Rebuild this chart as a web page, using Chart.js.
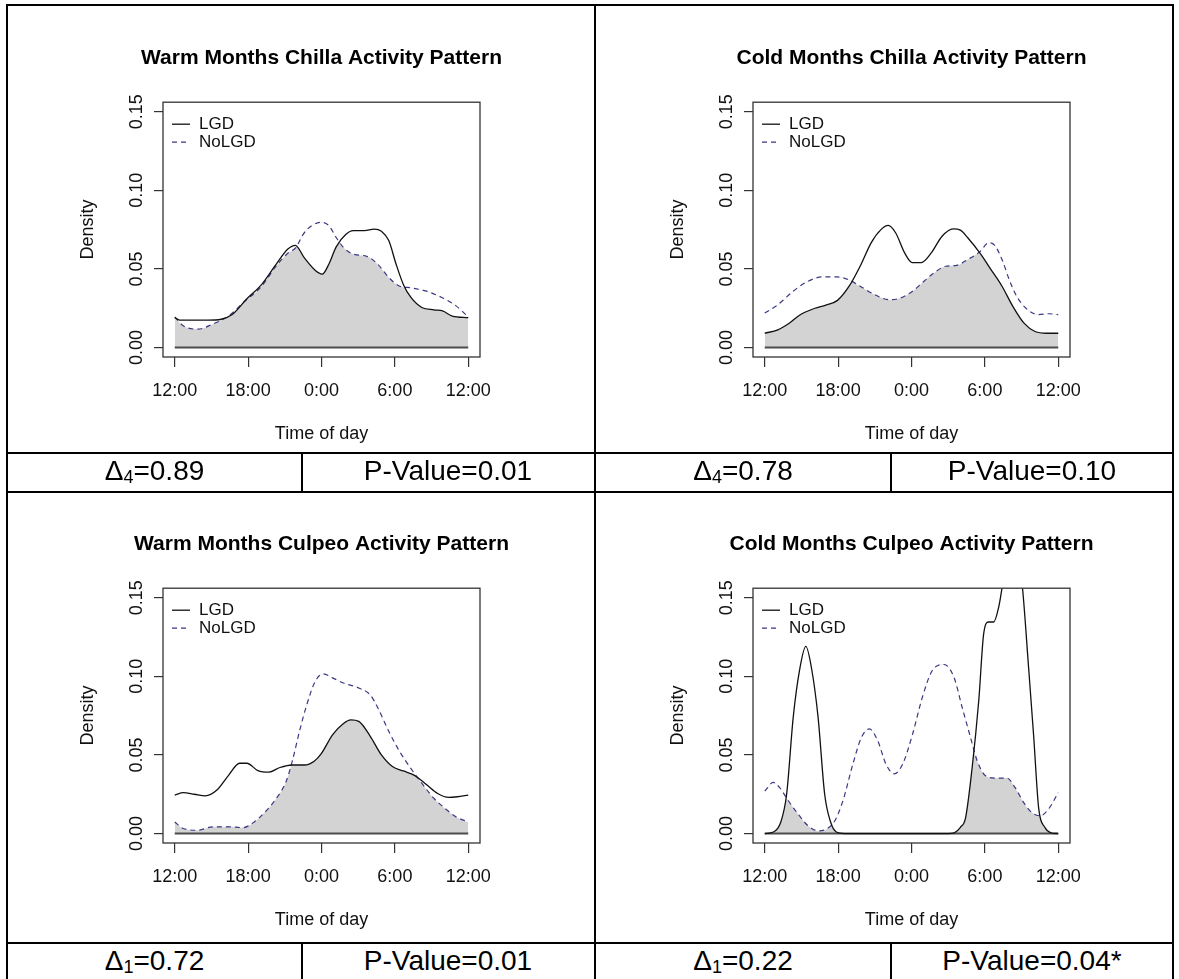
<!DOCTYPE html>
<html>
<head>
<meta charset="utf-8">
<script src="https://cdn.jsdelivr.net/npm/chart.js@4.4.1/dist/chart.umd.min.js"></script>
<style>
  body { margin: 0; background: #fff; width: 1179px; height: 979px; position: relative; overflow: hidden;
         font-family: "Liberation Sans", Arial, sans-serif; }
  canvas.panel { position: absolute; }
  .rule { position: absolute; background: #000; z-index: 2; }
  .stat { position: absolute; height: 36px; line-height: 36px; font-size: 28px; color: #000; text-align: center; white-space: nowrap; }
  .stat sub { font-size: 18px; vertical-align: -3px; }
</style>
</head>
<body>
<script>
// x axis: hours after noon, 0 = 12:00 ... 24 = next 12:00
const tickHours = [0, 6, 12, 18, 24];
const tickLabels = ['12:00', '18:00', '0:00', '6:00', '12:00'];
const densityTicks = [0, 0.05, 0.10, 0.15];

const titles = [
  'Warm Months Chilla Activity Pattern',
  'Cold Months Chilla Activity Pattern',
  'Warm Months Culpeo Activity Pattern',
  'Cold Months Culpeo Activity Pattern'
];
const deltaSub = ['4', '4', '1', '1'];
const deltaValues = ['0.89', '0.78', '0.72', '0.22'];
const pValues = ['0.01', '0.10', '0.01', '0.04*'];

// Warm months, chilla
const warmChillaLgdHours = [0, 0.4, 1.5, 2.7, 3.8, 4.7, 5.9, 7.1, 8.3, 9.25, 9.86, 10.6, 11.5, 12.06, 12.6, 13.2, 14.0, 14.6, 15.5, 16.3, 16.9, 17.5, 18.1, 18.7, 19.3, 20.2, 21.2, 21.9, 22.7, 24];
const warmChillaLgd = [0.019, 0.0175, 0.0174, 0.0174, 0.018, 0.021, 0.031, 0.040, 0.053, 0.0626, 0.065, 0.057, 0.049, 0.0467, 0.053, 0.064, 0.072, 0.0743, 0.0743, 0.0753, 0.074, 0.068, 0.053, 0.040, 0.032, 0.0255, 0.024, 0.0233, 0.020, 0.019];
const warmChillaNoHours = [0, 0.7, 1.9, 3.1, 4.4, 5.6, 7.1, 8.3, 9.25, 9.9, 10.5, 11.2, 12.0, 12.6, 13.2, 13.8, 14.6, 15.7, 16.6, 17.5, 18.4, 19.3, 20.5, 21.8, 23.0, 24];
const warmChillaNo = [0.0195, 0.0138, 0.0117, 0.0149, 0.020, 0.0286, 0.039, 0.052, 0.060, 0.0636, 0.072, 0.0775, 0.0796, 0.0775, 0.070, 0.0636, 0.0594, 0.058, 0.053, 0.0446, 0.039, 0.038, 0.036, 0.032, 0.0265, 0.0195];

// Cold months, chilla
const coldChillaLgdHours = [0, 1.07, 2.0, 2.9, 4.1, 5.0, 5.95, 6.9, 7.8, 8.7, 9.5, 10.1, 10.7, 11.45, 12.06, 12.8, 13.6, 14.5, 15.4, 16.0, 16.6, 17.6, 18.5, 19.4, 20.3, 21.2, 22.1, 23.05, 24];
const coldChillaLgd = [0.0091, 0.0113, 0.0155, 0.0209, 0.025, 0.027, 0.030, 0.039, 0.0517, 0.0666, 0.075, 0.0777, 0.073, 0.060, 0.054, 0.054, 0.060, 0.0708, 0.0755, 0.0747, 0.0698, 0.060, 0.0496, 0.039, 0.026, 0.0155, 0.0102, 0.0091, 0.0091];
const coldChillaNoHours = [0, 1.07, 2.3, 3.5, 4.7, 5.95, 6.9, 7.8, 9.0, 10.2, 11.1, 12.06, 13.0, 13.9, 14.8, 15.7, 16.6, 17.6, 18.3, 18.8, 19.4, 20.0, 20.6, 21.5, 22.4, 23.2, 24];
const coldChillaNo = [0.0219, 0.0272, 0.0357, 0.042, 0.0449, 0.0449, 0.043, 0.039, 0.0336, 0.0304, 0.0315, 0.0357, 0.042, 0.0479, 0.0517, 0.0523, 0.056, 0.061, 0.0666, 0.065, 0.056, 0.043, 0.0326, 0.024, 0.0209, 0.0215, 0.0209];

// Warm months, culpeo
const warmCulpeoLgdHours = [0, 0.7, 1.6, 2.5, 3.45, 4.4, 5.3, 5.9, 6.8, 7.7, 8.6, 9.6, 10.6, 11.4, 12.0, 12.9, 13.8, 14.4, 15.05, 16.0, 16.9, 17.8, 18.7, 19.6, 20.6, 21.5, 22.4, 23.1, 24];
const warmCulpeoLgd = [0.0245, 0.026, 0.025, 0.024, 0.0277, 0.037, 0.0447, 0.0447, 0.040, 0.039, 0.042, 0.0436, 0.0436, 0.046, 0.051, 0.0628, 0.070, 0.0723, 0.0713, 0.0617, 0.050, 0.0426, 0.0398, 0.037, 0.031, 0.0255, 0.023, 0.0234, 0.0245];
const warmCulpeoNoHours = [0, 0.7, 1.9, 3.1, 4.4, 5.6, 6.5, 7.4, 8.3, 9.1, 9.6, 10.2, 10.8, 11.5, 12.15, 12.9, 13.8, 15.05, 16.0, 16.6, 17.5, 18.4, 19.3, 20.2, 21.2, 22.1, 23.0, 24];
const warmCulpeoNo = [0.0074, 0.0032, 0.0021, 0.0043, 0.0043, 0.0038, 0.0074, 0.0138, 0.0223, 0.033, 0.0457, 0.065, 0.082, 0.097, 0.1015, 0.099, 0.0957, 0.0926, 0.088, 0.080, 0.065, 0.052, 0.0415, 0.032, 0.0223, 0.016, 0.0106, 0.0074];

// Cold months, culpeo
const coldCulpeoLgdHours = [0, 0.7, 1.3, 1.79, 2.33, 2.85, 3.36, 3.85, 4.36, 4.9, 5.4, 5.85, 6.5, 15.0, 15.5, 16.0, 16.42, 16.96, 17.5, 17.9, 18.3, 18.72, 19.13, 19.4, 19.8, 20.3, 20.7, 21.08, 21.57, 21.98, 22.4, 22.9, 23.4, 24];
const coldCulpeoLgd = [0, 0.001, 0.007, 0.025, 0.074, 0.104, 0.119, 0.104, 0.074, 0.025, 0.007, 0.001, 0, 0, 0.0005, 0.004, 0.010, 0.042, 0.0846, 0.127, 0.1345, 0.1345, 0.144, 0.156, 0.175, 0.185, 0.178, 0.1558, 0.106, 0.063, 0.016, 0.004, 0.0005, 0];
const coldCulpeoNoHours = [0, 0.7, 1.24, 1.92, 2.73, 3.55, 4.36, 5.04, 5.72, 6.4, 7.2, 7.9, 8.56, 9.24, 9.92, 10.59, 11.27, 12.08, 12.89, 13.7, 14.66, 15.47, 16.15, 16.83, 17.37, 18.05, 18.86, 19.8, 20.49, 21.16, 21.84, 22.52, 23.2, 24];
const coldCulpeoNo = [0.027, 0.0325, 0.029, 0.021, 0.0124, 0.0049, 0.0017, 0.0028, 0.008, 0.021, 0.044, 0.061, 0.0665, 0.059, 0.044, 0.038, 0.044, 0.063, 0.0867, 0.1037, 0.1075, 0.0994, 0.080, 0.061, 0.0463, 0.0368, 0.0353, 0.0353, 0.029, 0.0198, 0.0134, 0.0113, 0.0155, 0.026];

const lgdHours = [warmChillaLgdHours, coldChillaLgdHours, warmCulpeoLgdHours, coldCulpeoLgdHours];
const lgdValues = [warmChillaLgd, coldChillaLgd, warmCulpeoLgd, coldCulpeoLgd];
const noLgdHours = [warmChillaNoHours, coldChillaNoHours, warmCulpeoNoHours, coldCulpeoNoHours];
const noLgdValues = [warmChillaNo, coldChillaNo, warmCulpeoNo, coldCulpeoNo];

const FONT = '"Liberation Sans", Arial, sans-serif';
const panelX = [0, 590, 0, 590];
const panelY = [0, 0, 486, 486];

const toPoints = (hours, vals) => hours.map((h, i) => ({ x: h, y: vals[i] }));

// y tick labels in R are turned parallel to the axis
const rotatedYTicks = {
  id: 'rotatedYTicks',
  afterDraw(chart) {
    const ys = chart.scales.y, ctx = chart.ctx;
    ctx.save();
    ctx.font = '18px ' + FONT;
    ctx.fillStyle = '#111';
    ctx.textAlign = 'center';
    ctx.textBaseline = 'middle';
    ys.ticks.forEach(t => {
      ctx.save();
      ctx.translate(ys.right - 26, ys.getPixelForValue(t.value));
      ctx.rotate(-Math.PI / 2);
      ctx.fillText(t.value.toFixed(2), 0, 0);
      ctx.restore();
    });
    ctx.restore();
  }
};

const plotBox = {
  id: 'plotBox',
  afterDatasetsDraw(chart) {
    const a = chart.chartArea, ctx = chart.ctx;
    ctx.save();
    ctx.strokeStyle = '#333';
    ctx.lineWidth = 1.3;
    ctx.strokeRect(a.left, a.top, a.right - a.left, a.bottom - a.top);
    ctx.restore();
  }
};

// R style legend in the top left corner of the plot
const insetLegend = {
  id: 'insetLegend',
  afterDraw(chart) {
    const a = chart.chartArea, ctx = chart.ctx;
    ctx.save();
    ctx.font = '17px ' + FONT;
    ctx.textBaseline = 'middle';
    [0, 1].forEach(k => {
      const ds = chart.data.datasets[k];
      const y = a.top + 22 + k * 18;
      ctx.strokeStyle = ds.borderColor;
      ctx.lineWidth = ds.borderWidth;
      ctx.setLineDash(ds.borderDash || []);
      ctx.beginPath();
      ctx.moveTo(a.left + 9, y);
      ctx.lineTo(a.left + 27, y);
      ctx.stroke();
      ctx.setLineDash([]);
      ctx.fillStyle = '#111';
      ctx.fillText(ds.label, a.left + 36, y);
    });
    ctx.restore();
  }
};

function makePanel(i) {
  const canvas = document.createElement('canvas');
  canvas.className = 'panel';
  canvas.width = 643;
  canvas.height = 450;
  canvas.style.left = panelX[i] + 'px';
  canvas.style.top = panelY[i] + 'px';
  document.body.appendChild(canvas);

  new Chart(canvas, {
    type: 'line',
    data: {
      datasets: [
        {
          label: 'LGD',
          data: toPoints(lgdHours[i], lgdValues[i]),
          borderColor: '#111',
          borderWidth: 1.3,
          pointRadius: 0,
          cubicInterpolationMode: 'monotone',
          fill: { target: 1, above: 'rgba(255,255,255,0)', below: '#ffffff' }
        },
        {
          label: 'NoLGD',
          data: toPoints(noLgdHours[i], noLgdValues[i]),
          borderColor: '#393984',
          borderWidth: 1.2,
          borderDash: [5, 4],
          pointRadius: 0,
          cubicInterpolationMode: 'monotone',
          fill: { target: 'origin', above: '#d3d3d3' }
        },
        {
          label: 'base',
          data: [{ x: 0, y: 0 }, { x: 24, y: 0 }],
          borderColor: '#4d4d4d',
          borderWidth: 2,
          pointRadius: 0,
          fill: false
        }
      ]
    },
    options: {
      responsive: false,
      animation: false,
      layout: { padding: { left: 0, right: 0, top: 0, bottom: 5 } },
      plugins: {
        legend: { display: false },
        tooltip: { enabled: false },
        filler: { drawTime: 'beforeDatasetsDraw' },
        title: {
          display: true,
          text: titles[i],
          color: '#000',
          font: { family: FONT, size: 21, weight: 'bold', lineHeight: 1.2 },
          padding: { top: 46, bottom: 31 }
        }
      },
      scales: {
        x: {
          type: 'linear',
          min: -0.96,
          max: 24.96,
          afterBuildTicks: s => { s.ticks = tickHours.map(v => ({ value: v })); },
          afterFit: s => { s.height = 88; },
          ticks: {
            callback: (v, idx) => tickLabels[idx],
            color: '#111',
            font: { family: FONT, size: 18, lineHeight: 1.2 },
            padding: 13,
            maxRotation: 0,
            autoSkip: false
          },
          grid: { drawOnChartArea: false, tickLength: 10, color: '#333', lineWidth: 1.2 },
          border: { display: false },
          title: { display: true, text: 'Time of day', color: '#111', font: { family: FONT, size: 18, lineHeight: 1.2 }, padding: 0 }
        },
        y: {
          min: -0.006,
          max: 0.156,
          afterBuildTicks: s => { s.ticks = densityTicks.map(v => ({ value: v })); },
          afterFit: s => { s.width = 163; },
          ticks: { color: 'rgba(0,0,0,0)', font: { family: FONT, size: 18 } },
          grid: { drawOnChartArea: false, tickLength: 9, color: '#333', lineWidth: 1.2 },
          border: { display: false },
          title: { display: true, text: 'Density', color: '#111', font: { family: FONT, size: 18, lineHeight: 1.2 }, padding: { top: 77, bottom: 0 } }
        },
        // empty right margin so the plot title centres over the plot box
        yMargin: {
          position: 'right',
          afterFit: s => { s.width = 163; },
          ticks: { display: false },
          grid: { display: false },
          border: { display: false }
        }
      }
    },
    plugins: [rotatedYTicks, plotBox, insetLegend]
  });
}

function addRule(x, y, w, h) {
  const d = document.createElement('div');
  d.className = 'rule';
  Object.assign(d.style, { left: x + 'px', top: y + 'px', width: w + 'px', height: h + 'px' });
  document.body.appendChild(d);
}

function addStat(html, left, right, top) {
  const d = document.createElement('div');
  d.className = 'stat';
  d.innerHTML = html;
  Object.assign(d.style, { left: left + 'px', width: (right - left) + 'px', top: top + 'px' });
  document.body.appendChild(d);
}

// table grid
addRule(6, 4, 1168, 2);
[6, 594, 1172].forEach(x => addRule(x, 4, 2, 975));
[452, 491, 942].forEach(y => addRule(6, y, 1168, 2));
[301, 890].forEach(x => { addRule(x, 453, 2, 39); addRule(x, 943, 2, 36); });

[0, 1, 2, 3].forEach(makePanel);

// Δ and P-value row under each plot
const statCols = [[8, 301, 302, 594], [596, 890, 892, 1172]];
const statTop = [453, 453, 943, 943];
[0, 1, 2, 3].forEach(i => {
  const c = statCols[i % 2];
  addStat('\u0394<sub>' + deltaSub[i] + '</sub>=' + deltaValues[i], c[0], c[1], statTop[i]);
  addStat('P-Value=' + pValues[i], c[2], c[3], statTop[i]);
});
</script>
</body>
</html>
